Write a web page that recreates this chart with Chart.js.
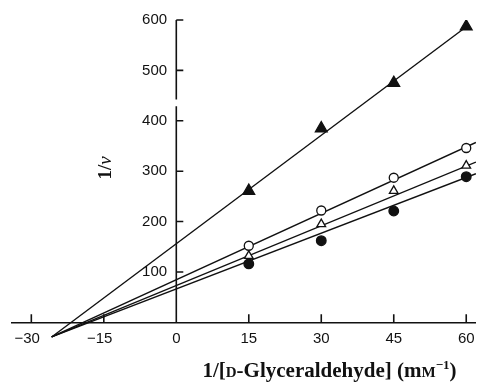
<!DOCTYPE html>
<html>
<head>
<meta charset="utf-8">
<script src="https://cdn.jsdelivr.net/npm/chart.js@4.4.1/dist/chart.umd.min.js"></script>
<style>
  html, body { margin: 0; padding: 0; background: #fff; }
</style>
</head>
<body>
<canvas id="chart" width="484" height="382"></canvas>
<script>
"use strict";

const INK = "#111111";

const concentrations = [15, 30, 45, 60];
const filledTriangles = [261, 385, 475, 587];
const openCircles = [152, 222, 287, 346];
const openTriangles = [132, 195, 261, 311];
const filledCircles = [116, 162, 221, 289];

// fitted lines: all start from the common intersection left of the axis
const lineStart = [-25.8, -29];
const filledTriangleLineEnd = [60.5, 590];
const openCircleLineEnd = [62, 357];
const openTriangleLineEnd = [62, 318];
const filledCircleLineEnd = [62, 295];

const xTicks = [-30, -15, 0, 15, 30, 45, 60];
const yTicks = [100, 200, 300, 400, 500, 600];
const yBreak = [429, 442];

function toPoints(xs, ys) {
  return xs.map((x, i) => ({ x, y: ys[i] }));
}

function fitLine(end) {
  return [{ x: lineStart[0], y: lineStart[1] }, { x: end[0], y: end[1] }];
}

function lineDataset(end) {
  return {
    data: fitLine(end),
    showLine: true,
    borderColor: INK,
    borderWidth: 1.4,
    pointRadius: 0,
    order: 2,
  };
}

function markerDataset(values, style, radius, filled) {
  return {
    data: toPoints(concentrations, values),
    showLine: false,
    pointStyle: style,
    pointRadius: radius,
    pointBorderWidth: 1.3,
    pointBorderColor: INK,
    pointBackgroundColor: filled ? INK : "#ffffff",
    order: 1,
  };
}

function formatTick(value) {
  // digits stay centred on the tick, the minus sign hangs to the left
  return value < 0 ? `\u2212${Math.abs(value)}\u2007` : String(value);
}

function drawPieces(ctx, pieces, startX, baseline) {
  let x = startX;
  for (const piece of pieces) {
    ctx.font = piece.font;
    ctx.fillText(piece.text, x, baseline + (piece.dy || 0));
    x += ctx.measureText(piece.text).width;
  }
}

function piecesWidth(ctx, pieces) {
  let width = 0;
  for (const piece of pieces) {
    ctx.font = piece.font;
    width += ctx.measureText(piece.text).width;
  }
  return width;
}

const axisDetails = {
  id: "axisDetails",
  afterDraw(chart) {
    const { ctx, scales: { x, y } } = chart;
    const x0 = x.getPixelForValue(0);
    const y0 = y.getPixelForValue(0);

    ctx.save();
    ctx.strokeStyle = INK;
    ctx.lineWidth = 1.6;
    ctx.beginPath();
    // vertical axis with a short break below 450
    ctx.moveTo(x0, y0);
    ctx.lineTo(x0, y.getPixelForValue(yBreak[0]));
    ctx.moveTo(x0, y.getPixelForValue(yBreak[1]));
    ctx.lineTo(x0, y.getPixelForValue(yTicks[yTicks.length - 1]));
    for (const value of yTicks) {
      const py = y.getPixelForValue(value);
      ctx.moveTo(x0, py);
      ctx.lineTo(x0 + 7, py);
    }
    for (const value of xTicks) {
      if (value === 0) {
        continue;
      }
      const px = x.getPixelForValue(value);
      ctx.moveTo(px, y0);
      ctx.lineTo(px, y0 - 8);
    }
    ctx.stroke();

    ctx.fillStyle = INK;
    ctx.textBaseline = "alphabetic";
    ctx.textAlign = "left";

    const main = "bold 21px 'Liberation Serif'";
    const small = "bold 15px 'Liberation Serif'";
    const sup = "bold 13px 'Liberation Serif'";
    const xTitle = [
      { text: "1/[", font: main },
      { text: "D", font: small },
      { text: "-Glyceraldehyde] (m", font: main },
      { text: "M", font: small },
      { text: "\u22121", font: sup, dy: -8 },
      { text: ")", font: main },
    ];
    const xWidth = piecesWidth(ctx, xTitle);
    drawPieces(ctx, xTitle, 329.5 - xWidth / 2, 377);

    const yTitle = [
      { text: "1/", font: "bold 19px 'Liberation Serif'" },
      { text: "v", font: "italic 19px 'Liberation Serif'" },
    ];
    const yWidth = piecesWidth(ctx, yTitle);
    ctx.translate(111, 168);
    ctx.rotate(-Math.PI / 2);
    drawPieces(ctx, yTitle, -yWidth / 2, 0);
    ctx.restore();
  },
};

new Chart(document.getElementById("chart"), {
  type: "scatter",
  data: {
    datasets: [
      lineDataset(filledTriangleLineEnd),
      lineDataset(openCircleLineEnd),
      lineDataset(openTriangleLineEnd),
      lineDataset(filledCircleLineEnd),
      markerDataset(filledTriangles, "triangle", 6.8, true),
      markerDataset(openCircles, "circle", 4.5, false),
      markerDataset(openTriangles, "triangle", 5, false),
      markerDataset(filledCircles, "circle", 4.8, true),
    ],
  },
  options: {
    responsive: false,
    animation: false,
    layout: {
      padding: { left: 12, right: 3, top: 20, bottom: 41 },
    },
    plugins: {
      legend: { display: false },
      tooltip: { enabled: false },
    },
    scales: {
      x: {
        type: "linear",
        min: -34,
        max: 62,
        position: { y: 0 },
        afterBuildTicks: (scale) => {
          scale.ticks = xTicks.map((value) => ({ value }));
        },
        grid: { display: false, drawTicks: false },
        border: { display: true, color: INK, width: 1.6 },
        ticks: {
          autoSkip: false,
          maxRotation: 0,
          padding: 8,
          color: INK,
          font: { family: "'Liberation Sans'", size: 15 },
          callback: (value) => formatTick(value),
        },
      },
      y: {
        type: "linear",
        min: -37,
        max: 600,
        // labels are anchored here, just left of the drawn axis line at x = 0
        position: { x: -1.9 },
        afterBuildTicks: (scale) => {
          scale.ticks = yTicks.map((value) => ({ value }));
        },
        grid: { display: false, drawTicks: false },
        border: { display: false },
        ticks: {
          autoSkip: false,
          color: INK,
          font: { family: "'Liberation Sans'", size: 15 },
          callback: (value) => formatTick(value),
        },
      },
    },
  },
  plugins: [axisDetails],
});
</script>
</body>
</html>
